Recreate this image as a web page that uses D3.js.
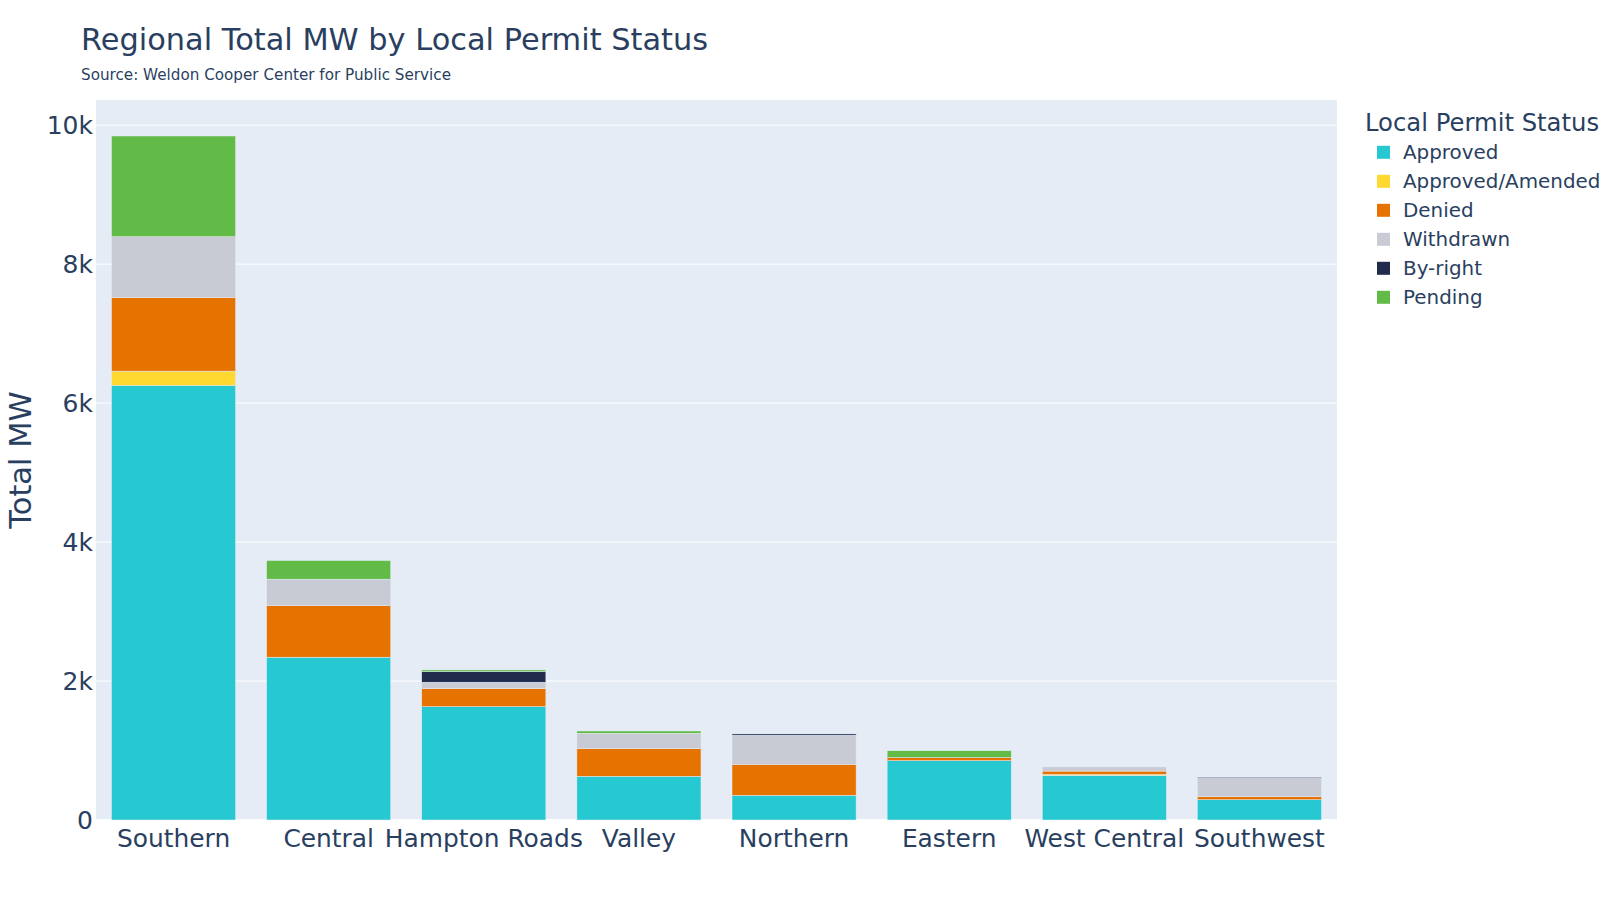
<!DOCTYPE html>
<html>
<head>
<meta charset="utf-8">
<script src="https://cdn.jsdelivr.net/npm/d3@7"></script>
<style>
  html, body { margin: 0; padding: 0; background: #fff; }
  svg { display: block; font-family: "DejaVu Sans", Verdana, sans-serif; }
</style>
</head>
<body>
<svg id="chart" width="1619" height="900"></svg>
<script>
// ---- data ----
const regions = ["Southern", "Central", "Hampton Roads", "Valley", "Northern", "Eastern", "West Central", "Southwest"];
const statuses = ["Approved", "Approved/Amended", "Denied", "Withdrawn", "By-right", "Pending"];
const approved  = [6253, 2343, 1631, 629, 355, 854, 640, 292];
const amended   = [207,     0,    0,   0,   0,   0,  16,   0];
const denied    = [1060,  743,  260, 398, 447,  43,  48,  43];
const withdrawn = [874,   380,   92, 221, 418,   0,  60, 275];
const byright   = [0,       0,  152,   0,  20,   0,   0,   8];
const pending   = [1450,  268,   25,  33,   5, 100,   0,   0];
const yTicks = [0, 2000, 4000, 6000, 8000, 10000];
const colors = ["#26C9D2", "#FFD92F", "#E67300", "#C8CBD3", "#222B4C", "#62BB47"];

const seriesValues = [approved, amended, denied, withdrawn, byright, pending];
const rows = regions.map((r, i) => {
  const o = { region: r };
  statuses.forEach((s, k) => { o[s] = seriesValues[k][i]; });
  return o;
});

// ---- layout ----
const svg = d3.select("#chart");
const plot = { left: 96, right: 1337, top: 100, bottom: 820 };
const textColor = "#2a3f5f";

const stack = d3.stack().keys(statuses);
const stacked = stack(rows);
const maxTotal = d3.max(rows, d => d3.sum(statuses, s => d[s]));

const x = d3.scaleBand().domain(regions).range([plot.left, plot.right]).paddingInner(0.2).paddingOuter(0.1);
const y = d3.scaleLinear().domain([0, maxTotal / 0.95]).range([plot.bottom, plot.top]);
const color = d3.scaleOrdinal().domain(statuses).range(colors);

// background
svg.append("rect")
  .attr("x", plot.left).attr("y", plot.top)
  .attr("width", plot.right - plot.left).attr("height", plot.bottom - plot.top)
  .attr("fill", "#E5ECF6");

// grid
svg.append("g").selectAll("line").data(yTicks).join("line")
  .attr("x1", plot.left).attr("x2", plot.right)
  .attr("y1", d => y(d)).attr("y2", d => y(d))
  .attr("stroke", "#fff").attr("stroke-width", d => d === 0 ? 2 : 1);

// bars
svg.append("g").selectAll("g").data(stacked).join("g")
  .attr("fill", d => color(d.key))
  .selectAll("rect").data(d => d).join("rect")
  .attr("x", d => x(d.data.region))
  .attr("width", x.bandwidth())
  .attr("y", d => y(d[1]))
  .attr("height", d => Math.max(0, y(d[0]) - y(d[1])))
  .attr("stroke", "#E5ECF6").attr("stroke-width", 0.5);

// y axis
const yAxis = d3.axisLeft(y).tickValues(yTicks).tickFormat(d => d === 0 ? "0" : d3.format("~s")(d)).tickSize(0).tickPadding(3);
const gy = svg.append("g").attr("transform", `translate(${plot.left},0)`).call(yAxis);
gy.select(".domain").remove();
gy.selectAll("text").attr("font-size", 25).attr("fill", textColor).attr("font-family", "DejaVu Sans");

// x axis
const xAxis = d3.axisBottom(x).tickSize(0).tickPadding(9);
const gx = svg.append("g").attr("transform", `translate(0,${plot.bottom})`).call(xAxis);
gx.select(".domain").remove();
gx.selectAll("text").attr("font-size", 24.9).attr("fill", textColor).attr("font-family", "DejaVu Sans");

// y title
svg.append("text")
  .attr("transform", `translate(31,${(plot.top + plot.bottom) / 2}) rotate(-90)`)
  .attr("text-anchor", "middle")
  .attr("font-size", 30.5).attr("fill", textColor)
  .text("Total MW");

// title & subtitle
svg.append("text").attr("x", 81).attr("y", 50)
  .attr("font-size", 30.4).attr("fill", textColor)
  .text("Regional Total MW by Local Permit Status");
svg.append("text").attr("x", 81).attr("y", 80)
  .attr("font-size", 15.2).attr("fill", textColor)
  .text("Source: Weldon Cooper Center for Public Service");

// legend
const lg = svg.append("g");
lg.append("text").attr("x", 1365).attr("y", 131)
  .attr("font-size", 24.3).attr("fill", textColor)
  .text("Local Permit Status");
const items = lg.selectAll("g.item").data(statuses).join("g")
  .attr("class", "item")
  .attr("transform", (d, i) => `translate(0,${152.3 + i * 29})`);
items.append("rect")
  .attr("x", 1377).attr("y", -6.5).attr("width", 13).attr("height", 13)
  .attr("fill", d => color(d));
items.append("text")
  .attr("x", 1403).attr("y", 0).attr("dy", "0.35em")
  .attr("font-size", 19.9).attr("fill", textColor)
  .text(d => d);
</script>
</body>
</html>
